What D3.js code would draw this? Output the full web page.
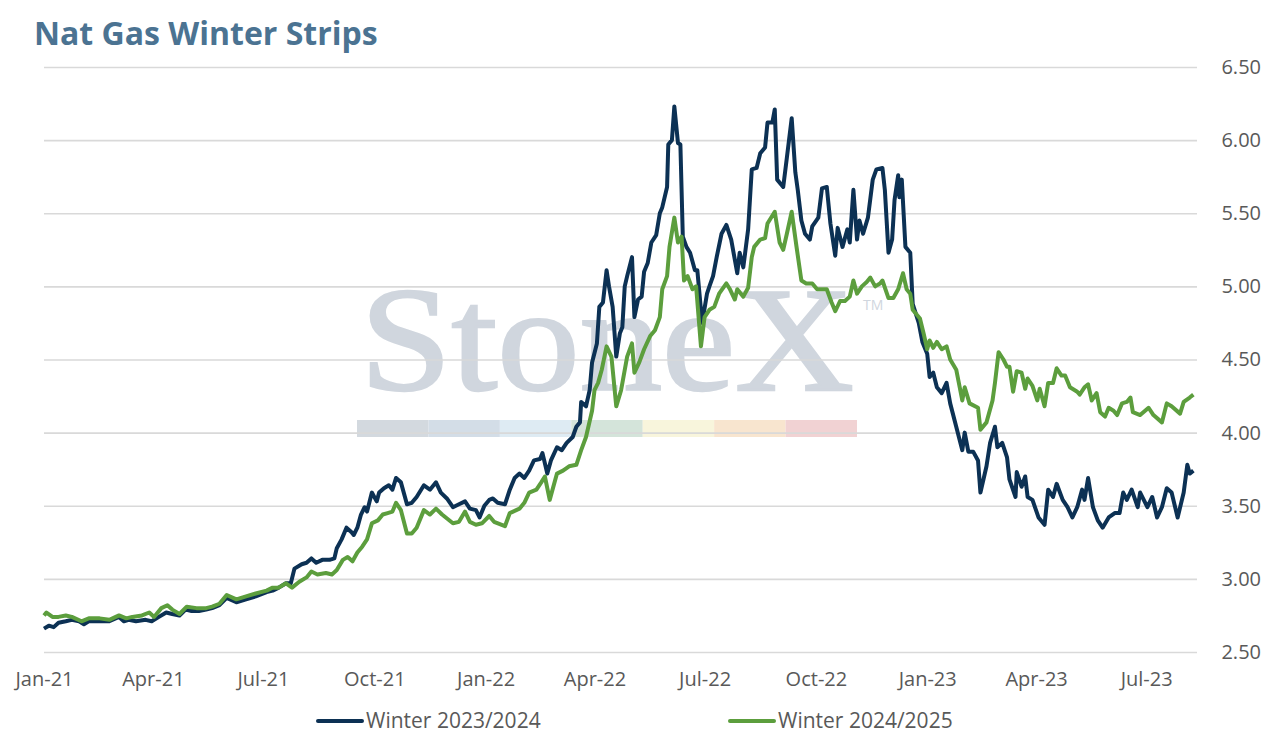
<!DOCTYPE html>
<html>
<head>
<meta charset="utf-8">
<script src="https://cdn.jsdelivr.net/npm/d3@7"></script>
<style>
  body { margin: 0; background: #fff; }
  svg { font-family: "Open Sans", Lato, sans-serif; }
  .tick text { fill: #595959; font-size: 20px; font-family: "Open Sans", Lato, sans-serif; }
</style>
</head>
<body>
<svg id="chart" width="1272" height="743"></svg>
<script>
// series values: [days since 1 Jan 2021, $/MMBtu]
var startDate = new Date(2021, 0, 1);
var endDate = new Date(2023, 7, 12);

var winter2324 = [
  [0,2.66],[4,2.68],[8,2.67],[12,2.70],[18,2.71],[23,2.72],[29,2.71],[33,2.69],[37,2.71],[46,2.71],
  [54,2.71],[62,2.74],[66,2.71],[70,2.72],[76,2.71],[84,2.72],[89,2.71],[95,2.74],[101,2.77],[106,2.76],
  [112,2.75],[117,2.79],[122,2.78],[128,2.78],[134,2.79],[139,2.80],[145,2.82],[151,2.87],[159,2.84],[167,2.86],
  [175,2.88],[184,2.91],[189,2.92],[194,2.94],[200,2.97],[204,2.97],[207,3.07],[213,3.10],[217,3.11],[221,3.14],
  [225,3.11],[230,3.13],[236,3.13],[240,3.14],[242,3.21],[246,3.27],[250,3.35],[254,3.32],[256,3.30],[259,3.35],
  [262,3.44],[265,3.49],[267,3.46],[271,3.59],[275,3.53],[277,3.59],[281,3.62],[285,3.64],[288,3.61],[291,3.69],
  [295,3.66],[300,3.51],[304,3.52],[308,3.56],[314,3.64],[319,3.61],[324,3.66],[328,3.59],[333,3.55],[338,3.49],
  [343,3.51],[348,3.53],[352,3.48],[357,3.47],[360,3.42],[364,3.50],[368,3.54],[371,3.55],[375,3.52],[381,3.51],
  [385,3.61],[389,3.69],[393,3.72],[397,3.69],[401,3.74],[405,3.81],[410,3.82],[412,3.86],[416,3.72],[419,3.81],
  [424,3.90],[428,3.88],[432,3.93],[437,3.97],[440,4.04],[443,4.07],[444,4.21],[448,4.18],[451,4.29],[453,4.48],
  [457,4.61],[459,4.86],[462,4.89],[465,5.11],[467,5.00],[470,4.86],[473,4.52],[476,4.68],[478,4.72],[480,5.00],
  [482,5.07],[486,5.20],[488,4.79],[491,4.91],[494,4.93],[496,5.10],[499,5.16],[502,5.30],[506,5.35],[509,5.50],
  [511,5.54],[515,5.68],[516,5.97],[519,6.00],[521,6.23],[524,5.98],[526,5.97],[528,5.34],[531,5.27],[534,5.23],
  [538,5.11],[540,5.11],[544,4.75],[548,4.95],[550,5.00],[553,5.07],[556,5.20],[560,5.36],[564,5.42],[568,5.32],
  [573,5.09],[575,5.23],[578,5.13],[582,5.39],[585,5.80],[589,5.81],[592,5.91],[596,5.95],[598,6.12],[602,6.12],
  [604,6.21],[606,5.73],[611,5.68],[614,5.88],[618,6.15],[621,5.78],[623,5.66],[626,5.45],[629,5.36],[633,5.32],
  [635,5.41],[640,5.47],[643,5.67],[647,5.68],[650,5.43],[654,5.21],[656,5.40],[660,5.27],[664,5.39],[666,5.30],
  [669,5.66],[672,5.32],[674,5.45],[677,5.36],[681,5.47],[685,5.73],[688,5.80],[693,5.81],[695,5.66],[698,5.23],
  [701,5.32],[703,5.59],[706,5.76],[707,5.61],[709,5.73],[712,5.27],[716,5.23],[718,4.88],[723,4.75],[726,4.62],
  [730,4.54],[732,4.38],[735,4.41],[738,4.31],[742,4.27],[746,4.34],[749,4.20],[754,4.04],[759,3.88],[761,4.00],
  [764,3.87],[768,3.87],[772,3.81],[774,3.59],[779,3.77],[782,3.93],[786,4.04],[788,3.90],[792,3.93],[796,3.83],
  [798,3.68],[803,3.56],[804,3.73],[808,3.63],[811,3.70],[813,3.56],[817,3.54],[822,3.42],[827,3.37],[830,3.61],
  [834,3.56],[837,3.65],[842,3.54],[846,3.49],[850,3.42],[854,3.49],[858,3.61],[860,3.54],[863,3.69],[867,3.49],
  [871,3.40],[875,3.35],[880,3.42],[885,3.45],[889,3.45],[892,3.59],[895,3.54],[899,3.61],[904,3.49],[906,3.59],
  [912,3.49],[916,3.56],[920,3.42],[924,3.49],[928,3.62],[932,3.59],[937,3.42],[942,3.59],[945,3.78],[947,3.72],
  [950,3.74]
];

var winter2425 = [
  [0,2.75],[2,2.77],[7,2.74],[12,2.74],[18,2.75],[23,2.74],[31,2.71],[37,2.73],[46,2.73],[54,2.72],
  [62,2.75],[68,2.73],[73,2.74],[81,2.75],[87,2.77],[91,2.74],[97,2.80],[102,2.82],[106,2.79],[112,2.76],
  [118,2.81],[126,2.80],[134,2.80],[139,2.81],[145,2.83],[151,2.89],[159,2.86],[167,2.88],[175,2.90],[184,2.92],
  [189,2.94],[194,2.94],[200,2.97],[205,2.94],[211,2.98],[217,3.01],[221,3.05],[226,3.03],[233,3.04],[238,3.03],
  [242,3.06],[247,3.13],[251,3.15],[255,3.12],[259,3.18],[263,3.22],[267,3.27],[271,3.38],[276,3.40],[280,3.44],
  [284,3.45],[288,3.46],[291,3.52],[295,3.47],[300,3.31],[304,3.31],[308,3.35],[314,3.47],[319,3.44],[324,3.48],
  [329,3.44],[338,3.38],[343,3.39],[348,3.46],[352,3.39],[357,3.37],[362,3.38],[368,3.43],[372,3.39],[381,3.36],
  [385,3.45],[393,3.48],[397,3.52],[401,3.59],[407,3.61],[411,3.66],[414,3.70],[418,3.54],[424,3.72],[429,3.74],
  [434,3.77],[440,3.78],[444,3.88],[448,3.97],[453,4.15],[455,4.29],[458,4.34],[461,4.43],[465,4.59],[469,4.52],
  [473,4.18],[477,4.29],[482,4.52],[486,4.61],[488,4.41],[492,4.48],[496,4.57],[501,4.66],[505,4.70],[509,4.79],
  [511,4.98],[515,5.07],[517,5.27],[521,5.47],[524,5.30],[527,5.34],[529,5.04],[532,5.07],[536,4.98],[539,5.00],
  [543,4.59],[546,4.79],[550,4.84],[554,4.86],[558,4.95],[564,5.02],[567,4.98],[571,4.91],[573,4.98],[578,4.93],
  [582,4.99],[585,5.20],[587,5.27],[592,5.32],[596,5.33],[598,5.43],[604,5.51],[608,5.30],[611,5.25],[614,5.36],
  [618,5.51],[622,5.27],[626,5.04],[630,5.02],[635,5.02],[639,4.98],[643,4.98],[647,4.98],[651,4.89],[654,4.83],
  [658,4.90],[662,4.90],[666,4.93],[669,5.04],[672,4.95],[676,5.00],[680,5.03],[683,5.06],[687,5.00],[691,5.02],
  [693,5.04],[698,4.92],[702,4.92],[706,4.98],[710,5.09],[713,4.98],[716,4.95],[718,4.84],[724,4.78],[727,4.68],
  [730,4.57],[732,4.63],[735,4.58],[738,4.62],[742,4.57],[746,4.59],[749,4.50],[754,4.43],[759,4.22],[761,4.31],
  [765,4.20],[772,4.17],[774,4.02],[779,4.07],[784,4.22],[786,4.34],[789,4.55],[793,4.50],[796,4.45],[798,4.45],
  [801,4.28],[804,4.42],[808,4.41],[811,4.30],[813,4.37],[817,4.32],[821,4.22],[823,4.30],[827,4.18],[830,4.34],
  [834,4.34],[837,4.44],[841,4.39],[844,4.39],[848,4.31],[854,4.28],[856,4.26],[860,4.31],[863,4.33],[866,4.22],
  [870,4.27],[873,4.14],[877,4.11],[880,4.17],[884,4.15],[887,4.12],[891,4.20],[895,4.21],[898,4.24],[900,4.14],
  [906,4.12],[913,4.17],[917,4.12],[924,4.07],[928,4.20],[932,4.18],[939,4.13],[942,4.21],[947,4.24],[950,4.26]
];

var yTicks = [2.5, 3.0, 3.5, 4.0, 4.5, 5.0, 5.5, 6.0, 6.5];
var seriesNames = ["Winter 2023/2024", "Winter 2024/2025"];
var seriesColors = ["#0c3154", "#5c9e3d"];
var watermarkColors = ["#d3d9df", "#d3dde7", "#deebf3", "#d4e4da", "#f8f5dc", "#f8e5cf", "#f1d2d3"];

var svg = d3.select("svg#chart");

var margin = { top: 67, right: 75, bottom: 91, left: 44 };
var width = 1272, height = 743;
var plotWidth = width - margin.left - margin.right;
var plotHeight = height - margin.top - margin.bottom;

var xScale = d3.scaleTime()
    .domain([startDate, endDate])
    .range([0, plotWidth]);

var yScale = d3.scaleLinear()
    .domain([2.5, 6.5])
    .range([plotHeight, 0]);

function toPoints(arr) {
    return arr.map(function (d) {
        return { date: d3.timeDay.offset(startDate, d[0]), value: d[1] };
    });
}

// title
svg.append("text")
    .attr("x", 34)
    .attr("y", 45)
    .style("font-size", "32px")
    .style("font-weight", "bold")
    .style("fill", "#4b7392")
    .text("Nat Gas Winter Strips");

var plot = svg.append("g")
    .attr("id", "plot")
    .attr("transform", "translate(" + margin.left + "," + margin.top + ")");

// StoneX watermark, sits under the grid
var wm = plot.append("g").attr("id", "watermark");
var wmLeft = 357 - margin.left, wmWidth = 500;
wm.append("text")
    .attr("x", wmLeft + wmWidth / 2)
    .attr("y", 390 - margin.top)
    .attr("text-anchor", "middle")
    .attr("textLength", wmWidth - 6)
    .attr("lengthAdjust", "spacingAndGlyphs")
    .style("font-family", "'Liberation Serif', 'DejaVu Serif', serif")
    .style("font-size", "148px")
    .style("fill", "#d0d6de")
    .style("stroke", "#d0d6de")
    .style("stroke-width", 2.5)
    .text("StoneX");
wm.append("text")
    .attr("x", 863 - margin.left)
    .attr("y", 310 - margin.top)
    .style("font-size", "14px")
    .style("fill", "#d0d6de")
    .text("TM");
var segW = wmWidth / watermarkColors.length;
wm.selectAll("rect")
    .data(watermarkColors)
    .enter().append("rect")
    .attr("x", function (d, i) { return wmLeft + i * segW; })
    .attr("y", 420 - margin.top)
    .attr("width", segW)
    .attr("height", 17)
    .attr("fill", function (d) { return d; });

// gridlines
var gridlines = d3.axisLeft(yScale)
    .tickValues(yTicks)
    .tickFormat("")
    .tickSize(-plotWidth);
plot.append("g")
    .attr("class", "grid")
    .call(gridlines)
    .call(function (g) { g.select(".domain").remove(); })
    .selectAll("line")
    .attr("stroke", "#d9d9d9")
    .attr("stroke-width", 1.6);

// y axis on the right
var yAxis = d3.axisRight(yScale)
    .tickValues(yTicks)
    .tickFormat(d3.format(".2f"))
    .tickSize(0)
    .tickPadding(0);
plot.append("g")
    .attr("id", "y-axis")
    .attr("transform", "translate(" + (1261 - margin.left) + ",0)")
    .call(yAxis)
    .call(function (g) { g.select(".domain").remove(); })
    .selectAll("text")
    .attr("text-anchor", "end");

// x axis
var xAxis = d3.axisBottom(xScale)
    .ticks(d3.timeMonth.every(3))
    .tickFormat(d3.timeFormat("%b-%y"))
    .tickSize(0)
    .tickPadding(20);
plot.append("g")
    .attr("id", "x-axis")
    .attr("transform", "translate(0," + plotHeight + ")")
    .call(xAxis)
    .call(function (g) { g.select(".domain").remove(); });

// lines
var line = d3.line()
    .x(function (d) { return xScale(d.date); })
    .y(function (d) { return yScale(d.value); });

var allSeries = [toPoints(winter2324), toPoints(winter2425)];
plot.selectAll("path.series")
    .data(allSeries)
    .enter().append("path")
    .attr("class", "series")
    .attr("fill", "none")
    .attr("stroke", function (d, i) { return seriesColors[i]; })
    .attr("stroke-width", 4)
    .attr("stroke-linejoin", "round")
    .attr("d", line);

// legend
var legendX = [318, 730];
var legend = svg.append("g").attr("id", "legend");
seriesNames.forEach(function (name, i) {
    legend.append("line")
        .attr("x1", legendX[i]).attr("x2", legendX[i] + 44)
        .attr("y1", 721).attr("y2", 721)
        .attr("stroke", seriesColors[i])
        .attr("stroke-width", 4)
        .attr("stroke-linecap", "round");
    legend.append("text")
        .attr("x", legendX[i] + 48)
        .attr("y", 728)
        .style("font-size", "21px")
        .style("fill", "#595959")
        .text(name);
});
</script>
</body>
</html>
